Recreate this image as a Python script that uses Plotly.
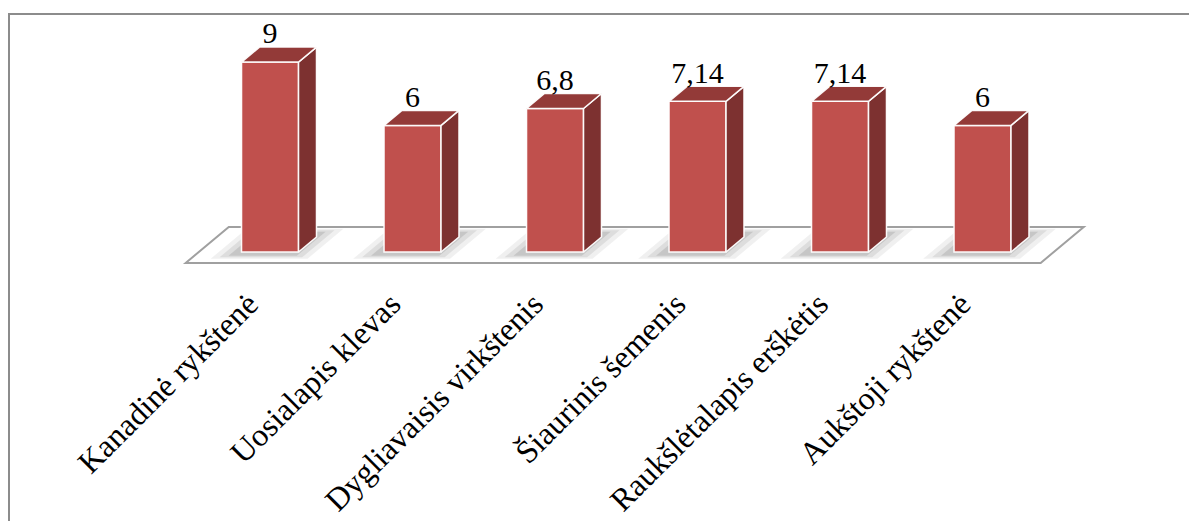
import plotly.graph_objects as go

# ---- data ----
categories = ["Kanadinė rykštenė", "Uosialapis klevas", "Dygliavaisis virkštenis",
              "Šiaurinis šemenis", "Raukšlėtalapis erškėtis", "Aukštoji rykštenė"]
values = [9, 6, 6.8, 7.14, 7.14, 6]
value_labels = ["9", "6", "6,8", "7,14", "7,14", "6"]

# ---- style / geometry ----
FRONT = "#C0504D"
SIDE = "#7D3130"
TOP = "#933A38"
EDGE = "rgba(255,255,255,0.95)"
W = 0.40          # bar width (category units)
DX = 0.126        # depth offset in x per unit depth
DY = 0.711        # depth offset in y per unit depth
FONT = "Liberation Serif"

n = len(categories)
xs = list(range(n))

fig = go.Figure()

# floor (drawn below traces)
def pt(xv, d, yv=0.0):
    return (xv + d * DX, yv + d * DY)

d_front, d_back = -0.73, 1.67
corners = [pt(-0.5, d_front), pt(n - 0.5, d_front), pt(n - 0.5, d_back), pt(-0.5, d_back)]
path = "M " + " L ".join(f"{a:.4f},{b:.4f}" for a, b in corners) + " Z"
fig.add_shape(type="path", path=path, xref="x", yref="y", fillcolor="white",
              line=dict(color="#A0A0A0", width=2), layer="below")

# soft shadows at the bar bases
for xi in xs:
    for grow, alpha in [(0.10, 0.06), (0.05, 0.08), (0.0, 0.10)]:
        c = [pt(xi - W / 2 - 0.06 - grow, -0.25 - grow * 2),
             pt(xi + W / 2 + 0.02 + grow, -0.25 - grow * 2),
             pt(xi + W / 2 + 0.02 + grow, 1.35 + grow * 2),
             pt(xi - W / 2 - 0.06 - grow, 1.35 + grow * 2)]
        p = "M " + " L ".join(f"{a:.4f},{b:.4f}" for a, b in c) + " Z"
        fig.add_shape(type="path", path=p, xref="x", yref="y",
                      fillcolor=f"rgba(0,0,0,{alpha})", line=dict(width=0), layer="below")

# front faces
fig.add_trace(go.Bar(x=xs, y=values, width=W,
                     marker=dict(color=FRONT, line=dict(color=EDGE, width=1.5)),
                     hoverinfo="skip", showlegend=False))

# side and top faces
for xi, v in zip(xs, values):
    r = xi + W / 2
    l = xi - W / 2
    side = [pt(r, 0), pt(r, 1), pt(r, 1, v), pt(r, 0, v), pt(r, 0)]
    fig.add_trace(go.Scatter(x=[p[0] for p in side], y=[p[1] for p in side],
                             mode="lines", fill="toself", fillcolor=SIDE,
                             line=dict(color=EDGE, width=1.5),
                             hoverinfo="skip", showlegend=False))
    top = [pt(l, 0, v), pt(r, 0, v), pt(r, 1, v), pt(l, 1, v), pt(l, 0, v)]
    fig.add_trace(go.Scatter(x=[p[0] for p in top], y=[p[1] for p in top],
                             mode="lines", fill="toself", fillcolor=TOP,
                             line=dict(color=EDGE, width=1.5),
                             hoverinfo="skip", showlegend=False))

# value labels
fig.add_trace(go.Scatter(x=xs, y=[v + DY * 0.75 for v in values], mode="text",
                         text=value_labels, textposition="top center",
                         textfont=dict(family=FONT, size=30, color="black"),
                         hoverinfo="skip", showlegend=False))

# chart border
fig.add_shape(type="rect", xref="paper", yref="paper",
              x0=9 / 1189, x1=1.02, y0=-1.0, y1=1 - 14 / 280,
              line=dict(color="#8C8C8C", width=2), fillcolor="rgba(0,0,0,0)", layer="below")

fig.update_layout(
    width=1189, height=521,
    margin=dict(l=0, r=0, t=0, b=243),
    paper_bgcolor="white", plot_bgcolor="rgba(0,0,0,0)",
    template="none",
    xaxis=dict(range=[-1.895, 6.449], tickvals=[x - 0.15 for x in xs], ticktext=categories,
               tickangle=-45, tickfont=dict(family=FONT, size=32, color="black"),
               showgrid=False, zeroline=False, showline=False, ticks="", automargin=False,
               fixedrange=True),
    yaxis=dict(range=[-1.232, 11.943], visible=False, showgrid=False, zeroline=False,
               automargin=False, fixedrange=True),
    showlegend=False,
)

fig.write_html("out.html")
